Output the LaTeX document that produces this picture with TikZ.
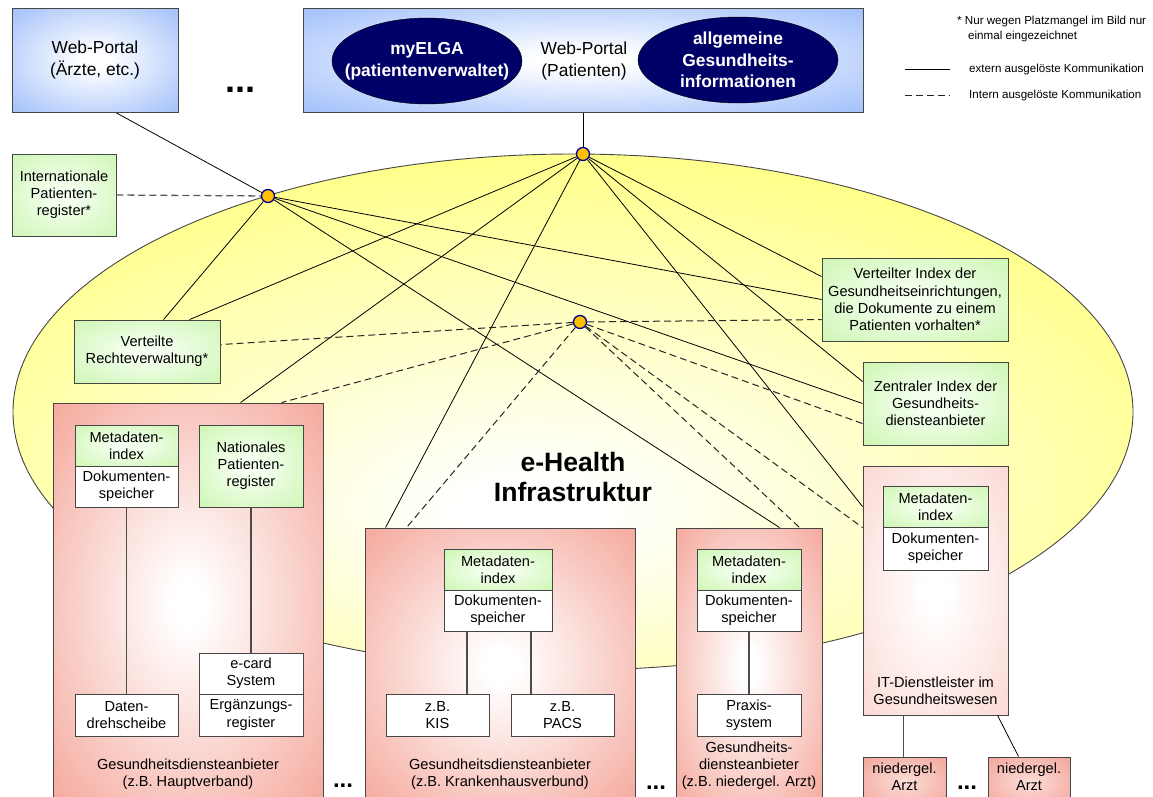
\documentclass[tikz,border=0pt]{standalone}
\usepackage{fontspec}
\setmainfont{Liberation Sans}
\usetikzlibrary{calc,backgrounds,shapes.geometric}

\definecolor{portalblue}{RGB}{148,183,250}
\definecolor{ellyel}{RGB}{255,255,140}
\definecolor{grn}{RGB}{200,245,170}
\definecolor{grnc}{RGB}{245,255,240}
\definecolor{salmon}{RGB}{244,165,152}
\definecolor{itpink}{RGB}{250,210,203}
\definecolor{arztc}{RGB}{240,158,146}
\definecolor{arztin}{RGB}{252,222,216}
\definecolor{navyfill}{RGB}{0,0,105}
\definecolor{dotfill}{RGB}{255,192,0}
\definecolor{dotline}{RGB}{0,0,150}
\definecolor{edge}{RGB}{70,70,70}

\pgfdeclareradialshading{shYel}{\pgfpoint{-2bp}{-10bp}}{color(0bp)=(white); color(3bp)=(white); color(31bp)=(ellyel); color(90bp)=(ellyel)}
\pgfdeclareradialshading{shBlue}{\pgfpoint{0bp}{0bp}}{color(0bp)=(white); color(4bp)=(white); color(40bp)=(portalblue); color(90bp)=(portalblue)}
\pgfdeclareradialshading{shGreen}{\pgfpoint{0bp}{0bp}}{color(0bp)=(grnc); color(6bp)=(grnc); color(40bp)=(grn); color(90bp)=(grn)}
\pgfdeclareradialshading{shSalmon}{\pgfpoint{0bp}{0bp}}{color(0bp)=(white); color(3bp)=(white); color(37bp)=(salmon); color(90bp)=(salmon)}
\pgfdeclareradialshading{shIT}{\pgfpoint{0bp}{0bp}}{color(0bp)=(white); color(4bp)=(white); color(42bp)=(itpink); color(90bp)=(itpink)}
\pgfdeclareradialshading{shArzt}{\pgfpoint{0bp}{0bp}}{color(0bp)=(arztin); color(40bp)=(arztc); color(90bp)=(arztc)}

\newcommand\bodyfont{\fontsize{14.6}{17.2}\selectfont}

\tikzset{
  box/.style={draw=edge, line width=0.9pt, align=center, inner sep=0pt, font=\bodyfont},
  conn/.style={draw=black, line width=0.8pt},
  dconn/.style={draw=black!85, line width=1pt, dash pattern=on 7pt off 4pt},
  inln/.style={draw=black!70, line width=1.3pt},
  hub/.style={circle, draw=dotline, fill=dotfill, line width=1.3pt, minimum size=13pt, inner sep=0pt},
  navyell/.style={draw=black, fill=navyfill, ellipse, inner sep=0pt},
  elltxt/.style={text=white, align=center, inner sep=0pt, font=\fontsize{17.4}{21.5}\selectfont\bfseries},
  dotsbig/.style={font=\fontsize{36}{36}\selectfont\bfseries, anchor=base, inner sep=0pt},
  dotssmall/.style={font=\fontsize{24}{24}\selectfont\bfseries, anchor=base, inner sep=0pt},
  lbl/.style={align=center, inner sep=0pt, font=\bodyfont},
  legend/.style={font=\fontsize{11.6}{15}\selectfont, inner sep=0pt, align=left}
}

\begin{document}
\begin{tikzpicture}[x=1pt,y=-1pt]
\clip (0,0) rectangle (1153,796);

% top portals
\node[box, shading=shBlue, minimum width=166pt, minimum height=104pt, font=\fontsize{17.4}{22}\selectfont] (aerzte) at (95,60) {Web-Portal\\(Ärzte, etc.)};
\node[dotsbig] (dots0) at (240,92) {...};
\node[box, shading=shBlue, minimum width=560pt, minimum height=104pt] (patportal) at (583,60) {};
\node[navyell, minimum width=190pt, minimum height=86pt] (myelga) at (427,61) {};
\node[elltxt] (myelgatxt) at (427,61) {myELGA\\(patientenverwaltet)};
\node[navyell, minimum width=200pt, minimum height=86pt] (allg) at (738,60) {};
\node[elltxt] (allgtxt) at (738,60) {allgemeine\\Gesundheits-\\informationen};
\node[lbl, font=\fontsize{17.4}{22}\selectfont] (patlbl) at (584,61) {Web-Portal\\(Patienten)};

% legend
\node[legend, anchor=north west] (leg0) at (957,16) {*~Nur wegen Platzmangel im Bild nur\\\hspace*{11pt}einmal eingezeichnet};
\coordinate (l1a) at (905,69);
\coordinate (l1b) at (950,69);
\coordinate (l2a) at (905,95);
\coordinate (l2b) at (950,95);
\node[legend, anchor=west] (leg1) at (969,69) {extern ausgelöste Kommunikation};
\node[legend, anchor=west] (leg2) at (969,95) {Intern ausgelöste Kommunikation};

% boxes on the e-Health ellipse
\node[box, shading=shGreen, minimum width=104pt, minimum height=82pt] (intl) at (64,195) {Internationale\\Patienten-\\register*};
\node[box, shading=shGreen, minimum width=146pt, minimum height=63pt] (rv) at (147,351.5) {Verteilte\\Rechteverwaltung*};
\node[box, shading=shGreen, minimum width=186pt, minimum height=83pt] (vi) at (915,299.5) {Verteilter Index der\\Gesundheitseinrichtungen,\\die Dokumente zu einem\\Patienten vorhalten*};
\node[box, shading=shGreen, minimum width=145pt, minimum height=83pt] (zi) at (935.5,403.5) {Zentraler Index der\\Gesundheits-\\diensteanbieter};

% Hauptverband
\node[box, shading=shSalmon, minimum width=270pt, minimum height=402pt] (hv) at (188,604) {};
\node[box, shading=shGreen, minimum width=103pt, minimum height=41pt] (mdi1) at (126.5,445.5) {Metadaten-\\index};
\node[box, fill=white, minimum width=103pt, minimum height=41pt] (dok1) at (126.5,486.5) {Dokumenten-\\speicher};
\node[box, shading=shGreen, minimum width=104pt, minimum height=82pt] (nat) at (251,466) {Nationales\\Patienten-\\register};
\node[box, fill=white, minimum width=103pt, minimum height=42pt] (dds) at (126.5,715) {Daten-\\drehscheibe};
\node[box, fill=white, minimum width=104pt, minimum height=41pt] (ecard) at (251,673.5) {e-card\\System};
\node[box, fill=white, minimum width=104pt, minimum height=42pt] (erg) at (251,715) {Ergänzungs-\\register};
\node[lbl] (hvlbl) at (188,774) {Gesundheitsdiensteanbieter\\(z.B. Hauptverband)};
\node[dotssmall] (dots1) at (343,787) {...};

% Krankenhaus
\node[box, shading=shSalmon, minimum width=270pt, minimum height=277pt] (kh) at (500,666.5) {};
\node[box, shading=shGreen, minimum width=108pt, minimum height=41pt] (mdi2) at (498,569.5) {Metadaten-\\index};
\node[box, fill=white, minimum width=108pt, minimum height=41pt] (dok2) at (498,610.5) {Dokumenten-\\speicher};
\node[box, fill=white, minimum width=103pt, minimum height=42pt] (kis) at (437.5,715) {z.B.\\KIS};
\node[box, fill=white, minimum width=103pt, minimum height=42pt] (pacs) at (562.5,715) {z.B.\\PACS};
\node[lbl] (khlbl) at (500,774) {Gesundheitsdiensteanbieter\\(z.B. Krankenhausverbund)};
\node[dotssmall] (dots2) at (656,789) {...};

% niedergelassener Arzt
\node[box, shading=shSalmon, minimum width=146pt, minimum height=277pt] (na) at (749,666.5) {};
\node[box, shading=shGreen, minimum width=104pt, minimum height=41pt] (mdi3) at (749,569.5) {Metadaten-\\index};
\node[box, fill=white, minimum width=104pt, minimum height=41pt] (dok3) at (749,610.5) {Dokumenten-\\speicher};
\node[box, fill=white, minimum width=104pt, minimum height=42pt] (praxis) at (749,715) {Praxis-\\system};
\node[lbl] (nalbl) at (749,766) {Gesundheits-\\diensteanbieter\\(z.B. niedergel. Arzt)};

% IT-Dienstleister
\node[box, shading=shIT, minimum width=145pt, minimum height=249pt] (it) at (935.5,590.5) {};
\node[box, shading=shGreen, minimum width=105pt, minimum height=41pt] (mdi4) at (935.5,506.5) {Metadaten-\\index};
\node[box, fill=white, minimum width=105pt, minimum height=43pt] (dok4) at (935.5,548.5) {Dokumenten-\\speicher};
\node[lbl] (itlbl) at (935.5,691) {IT-Dienstleister im\\Gesundheitswesen};
\node[box, shading=shArzt, minimum width=83pt, minimum height=50pt] (arzt1) at (904.5,782) {};
\node[box, shading=shArzt, minimum width=82pt, minimum height=50pt] (arzt2) at (1029,782) {};
\node[lbl] (a1lbl) at (904.5,777) {niedergel.\\Arzt};
\node[lbl] (a2lbl) at (1029,777) {niedergel.\\Arzt};
\node[dotssmall] (dots3) at (967,789) {...};

% e-Health text
\node[lbl, font=\fontsize{26.6}{30}\selectfont\bfseries] (eh) at (573,477) {e-Health\\Infrastruktur};

% hubs
\node[hub] (A) at (268,196) {};
\node[hub] (B) at (583,154) {};
\node[hub] (C) at (580,322) {};

\begin{pgfonlayer}{background}
\node[ellipse, draw=edge, line width=0.9pt, shading=shYel, minimum width=1120pt, minimum height=516pt, inner sep=0pt] (ehi) at (573,412) {};
% solid connectors
\draw[conn] ($(aerzte.south west)+(104,0)$) -- (A);
\draw[conn] (patportal.south) -- (B);
\draw[conn] (A) -- ($(rv.north west)+(90,0)$);
\draw[conn] (A) -- (vi.west);
\draw[conn] (A) -- (zi.west);
\draw[conn] (A) -- ($(na.north west)+(104,0)$);
\draw[conn] (B) -- ($(rv.north west)+(116,0)$);
\draw[conn] (B) -- ($(hv.north west)+(188,0)$);
\draw[conn] (B) -- ($(kh.north west)+(21,0)$);
\draw[conn] (B) -- ($(vi.north west)+(0,19)$);
\draw[conn] (B) -- ($(zi.north west)+(0,20)$);
\draw[conn] (B) -- ($(it.north west)+(0,41)$);
% dashed connectors
\draw[dconn, draw=black!65, line width=1.3pt] (intl.east) -- (A);
\draw[dconn] (C) -- ($(rv.north east)+(0,25)$);
\draw[dconn] (C) -- ($(hv.north west)+(229,0)$);
\draw[dconn] (C) -- ($(kh.north west)+(42,0)$);
\draw[dconn] (C) -- ($(vi.north west)+(0,62)$);
\draw[dconn] (C) -- ($(zi.north west)+(0,62)$);
\draw[dconn] (C) -- ($(it.north west)+(0,62)$);
\draw[dconn] (C) -- ($(na.north west)+(124,0)$);
\end{pgfonlayer}

% inner lines
\draw[inln] (dok1.south) -- (dds.north);
\draw[inln] (nat.south) -- (ecard.north);
\draw[inln] ($(dok2.south)+(-31,0)$) -- ($(kis.north)+(29.5,0)$);
\draw[inln] ($(dok2.south)+(33,0)$) -- ($(pacs.north)+(-31.5,0)$);
\draw[inln] (dok3.south) -- (praxis.north);
\draw[inln] ($(it.south west)+(41,0)$) -- ($(arzt1.north west)+(41,0)$);
\draw[conn] ($(it.south west)+(135,0)$) -- ($(arzt2.north west)+(31,0)$);

% legend lines
\draw[conn] (l1a) -- (l1b);
\draw[dconn] (l2a) -- (l2b);
\end{tikzpicture}
\end{document}
